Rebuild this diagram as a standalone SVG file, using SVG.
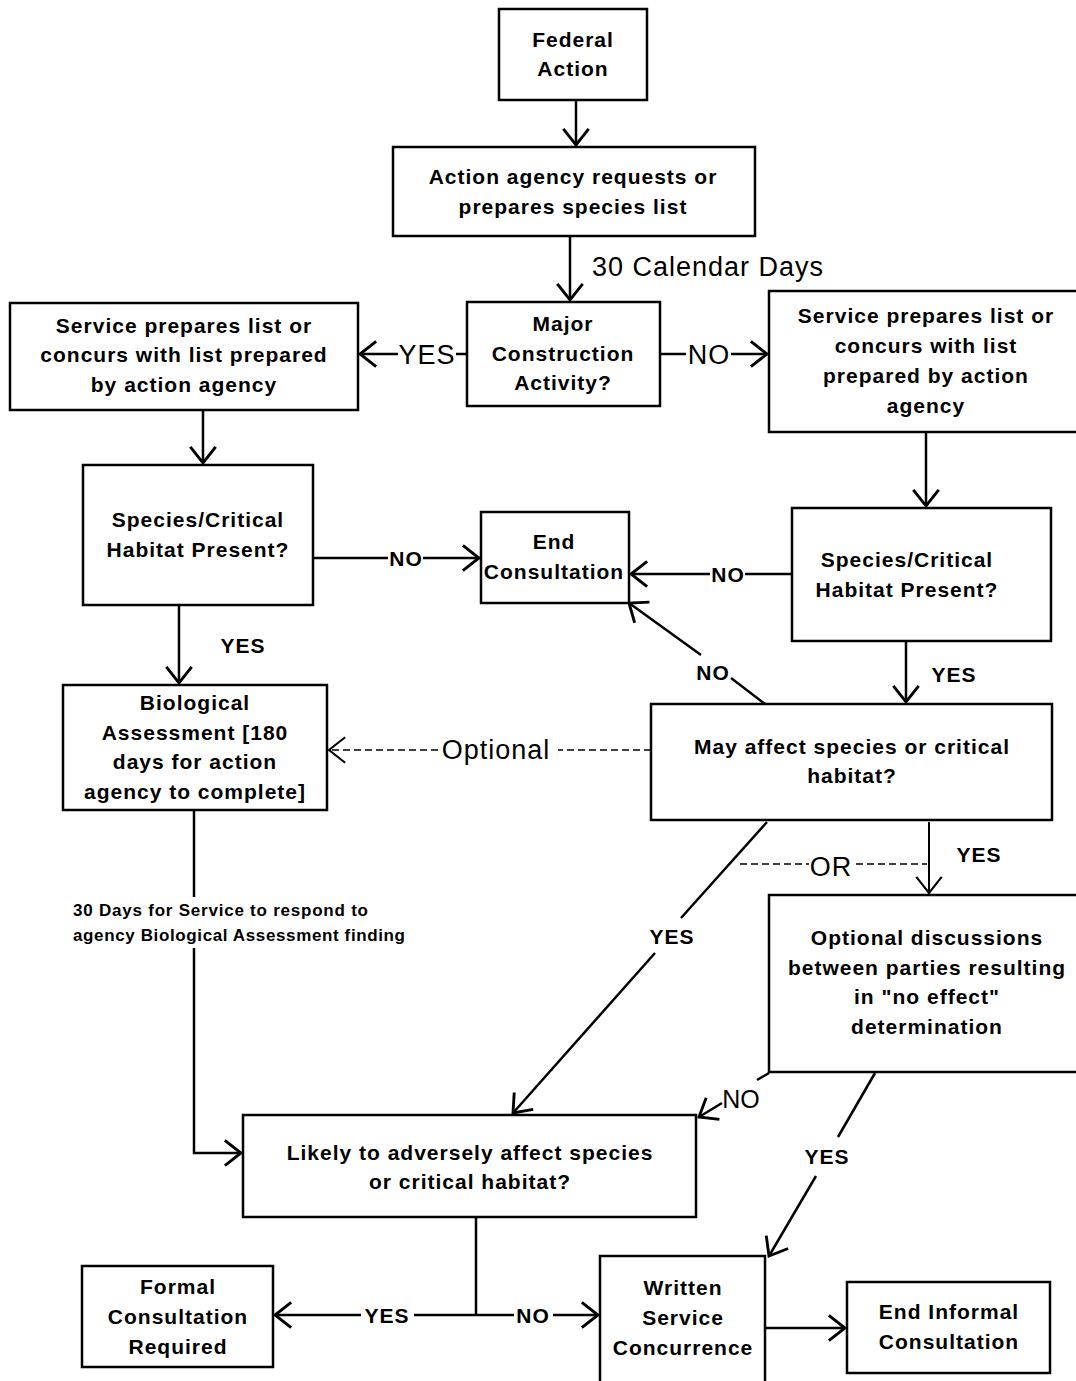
<svg xmlns="http://www.w3.org/2000/svg" width="1076" height="1381" viewBox="0 0 1076 1381">
<style>
rect.n{fill:#fff;stroke:#000;stroke-width:2.5}
text{font-family:"Liberation Sans",Arial,sans-serif;fill:#000}
.t{font-size:21px;font-weight:bold;letter-spacing:1px;text-anchor:middle}
.lb{font-size:27px;letter-spacing:1px;text-anchor:middle}
.ls{font-size:21px;font-weight:bold;letter-spacing:1px;text-anchor:middle}
.sm{font-size:17px;font-weight:bold}
.c line,.c path{stroke:#000;stroke-width:2.5;fill:none}
.c .d{stroke-width:1.5;stroke-dasharray:7,4}
</style>
<defs>
<marker id="a" markerUnits="userSpaceOnUse" markerWidth="30" markerHeight="30" viewBox="-16 -13 18 26" refX="0" refY="0" orient="auto">
<path d="M-14,-11 L0,0 L-14,11" fill="none" stroke="#000" stroke-width="2.5"/>
</marker>
<marker id="b" markerUnits="userSpaceOnUse" markerWidth="30" markerHeight="30" viewBox="-16 -13 18 26" refX="0" refY="0" orient="auto">
<path d="M-14,-11 L0,0 L-14,11" fill="none" stroke="#000" stroke-width="1.8"/>
</marker>
</defs>
<rect width="1076" height="1381" fill="#fff"/>
<g class="c" id="connectors">
<line x1="576" y1="100" x2="576" y2="145" marker-end="url(#a)"/>
<line x1="570" y1="236" x2="570" y2="300" marker-end="url(#a)"/>
<text x="592" y="276" style="font-size:27px;letter-spacing:1px">30 Calendar Days</text>
<line x1="467" y1="354" x2="456" y2="354"/>
<text class="lb" x="427" y="364">YES</text>
<line x1="398" y1="354" x2="360" y2="354" marker-end="url(#a)"/>
<line x1="660" y1="354" x2="686" y2="354"/>
<text class="lb" x="709" y="364">NO</text>
<line x1="731" y1="354" x2="767" y2="354" marker-end="url(#a)"/>
<line x1="203" y1="410" x2="203" y2="463" marker-end="url(#a)"/>
<line x1="926" y1="432" x2="926" y2="506" marker-end="url(#a)"/>
<line x1="313" y1="558" x2="388" y2="558"/>
<text class="ls" x="406" y="566">NO</text>
<line x1="423" y1="558" x2="479" y2="558" marker-end="url(#a)"/>
<line x1="792" y1="574" x2="745" y2="574"/>
<text class="ls" x="728" y="582">NO</text>
<line x1="710" y1="574" x2="631" y2="574" marker-end="url(#a)"/>
<line x1="179" y1="605" x2="179" y2="683" marker-end="url(#a)"/>
<text class="ls" x="243" y="653">YES</text>
<line x1="906" y1="641" x2="906" y2="702" marker-end="url(#a)"/>
<text class="ls" x="954" y="682">YES</text>
<line x1="765" y1="704" x2="731" y2="678"/>
<text class="ls" x="713" y="680">NO</text>
<line x1="701" y1="655" x2="629" y2="603" marker-end="url(#a)"/>
<line class="d" x1="651" y1="750" x2="558" y2="750"/>
<text class="lb" x="496" y="759">Optional</text>
<line class="d" x1="438" y1="750" x2="329" y2="750" marker-end="url(#b)"/>
<line x1="929" y1="822" x2="929" y2="893" style="stroke-width:2" marker-end="url(#b)"/>
<text class="ls" x="979" y="862">YES</text>
<line class="d" x1="740" y1="864" x2="809" y2="864"/>
<text class="lb" x="831" y="876">OR</text>
<line class="d" x1="856" y1="864" x2="927" y2="864"/>
<line x1="767" y1="822" x2="681" y2="918"/>
<text class="ls" x="672" y="944">YES</text>
<line x1="655" y1="953" x2="513" y2="1113" marker-end="url(#a)"/>
<line x1="194" y1="810" x2="194" y2="897"/>
<text class="sm" x="73" y="916" textLength="295" lengthAdjust="spacing">30 Days for Service to respond to</text>
<text class="sm" x="73" y="941" textLength="332" lengthAdjust="spacing">agency Biological Assessment finding</text>
<path d="M194,948 L194,1153 L241,1153" marker-end="url(#a)"/>
<line x1="769" y1="1073" x2="757" y2="1080"/>
<text x="741" y="1108" style="font-size:25px;text-anchor:middle">NO</text>
<line x1="722" y1="1103" x2="699" y2="1117" marker-end="url(#a)"/>
<line x1="875" y1="1073" x2="838" y2="1137"/>
<text class="ls" x="827" y="1164">YES</text>
<line x1="816" y1="1176" x2="769" y2="1256" marker-end="url(#a)"/>
<line x1="476" y1="1217" x2="476" y2="1315"/>
<line x1="476" y1="1315" x2="414" y2="1315"/>
<text class="ls" x="387" y="1323">YES</text>
<line x1="361" y1="1315" x2="275" y2="1315" marker-end="url(#a)"/>
<line x1="476" y1="1315" x2="514" y2="1315"/>
<text class="ls" x="533" y="1323">NO</text>
<line x1="553" y1="1315" x2="598" y2="1315" marker-end="url(#a)"/>
<line x1="765" y1="1328" x2="845" y2="1328" marker-end="url(#a)"/>
</g>
<g id="federal-action"><rect class="n" x="499" y="9" width="148" height="91"/><text class="t" x="573" y="47">Federal</text><text class="t" x="573" y="76">Action</text></g>
<g id="request-list"><rect class="n" x="393" y="147" width="362" height="89"/><text class="t" x="573" y="184">Action agency requests or</text><text class="t" x="573" y="214">prepares species list</text></g>
<g id="major-construction"><rect class="n" x="467" y="302" width="193" height="104"/><text class="t" x="563" y="331">Major</text><text class="t" x="563" y="361">Construction</text><text class="t" x="563" y="390">Activity?</text></g>
<g id="service-list-left"><rect class="n" x="10" y="303" width="348" height="107"/><text class="t" x="184" y="333">Service prepares list or</text><text class="t" x="184" y="362">concurs with list prepared</text><text class="t" x="184" y="392">by action agency</text></g>
<g id="service-list-right"><rect class="n" x="769" y="291" width="312" height="141"/><text class="t" x="926" y="323">Service prepares list or</text><text class="t" x="926" y="353">concurs with list</text><text class="t" x="926" y="383">prepared by action</text><text class="t" x="926" y="413">agency</text></g>
<g id="species-left"><rect class="n" x="83" y="465" width="230" height="140"/><text class="t" x="198" y="527">Species/Critical</text><text class="t" x="198" y="557">Habitat Present?</text></g>
<g id="end-consultation"><rect class="n" x="481" y="512" width="148" height="91"/><text class="t" x="554" y="549">End</text><text class="t" x="554" y="579">Consultation</text></g>
<g id="species-right"><rect class="n" x="792" y="508" width="259" height="133"/><text class="t" x="907" y="567">Species/Critical</text><text class="t" x="907" y="597">Habitat Present?</text></g>
<g id="bio-assessment"><rect class="n" x="63" y="685" width="264" height="125"/><text class="t" x="195" y="710">Biological</text><text class="t" x="195" y="740">Assessment [180</text><text class="t" x="195" y="769">days for action</text><text class="t" x="195" y="799">agency to complete]</text></g>
<g id="may-affect"><rect class="n" x="651" y="704" width="401" height="116"/><text class="t" x="852" y="754">May affect species or critical</text><text class="t" x="852" y="783">habitat?</text></g>
<g id="optional-discussions"><rect class="n" x="769" y="895" width="312" height="177"/><text class="t" x="927" y="945">Optional discussions</text><text class="t" x="927" y="975">between parties resulting</text><text class="t" x="927" y="1004">in "no effect"</text><text class="t" x="927" y="1034">determination</text></g>
<g id="likely-adverse"><rect class="n" x="243" y="1115" width="453" height="102"/><text class="t" x="470" y="1160">Likely to adversely affect species</text><text class="t" x="470" y="1189">or critical habitat?</text></g>
<g id="formal-consultation"><rect class="n" x="82" y="1266" width="191" height="101"/><text class="t" x="178" y="1294">Formal</text><text class="t" x="178" y="1324">Consultation</text><text class="t" x="178" y="1354">Required</text></g>
<g id="written-concurrence"><rect class="n" x="600" y="1256" width="165" height="130"/><text class="t" x="683" y="1295">Written</text><text class="t" x="683" y="1325">Service</text><text class="t" x="683" y="1355">Concurrence</text></g>
<g id="end-informal"><rect class="n" x="847" y="1282" width="203" height="91"/><text class="t" x="949" y="1319">End Informal</text><text class="t" x="949" y="1349">Consultation</text></g>
</svg>
